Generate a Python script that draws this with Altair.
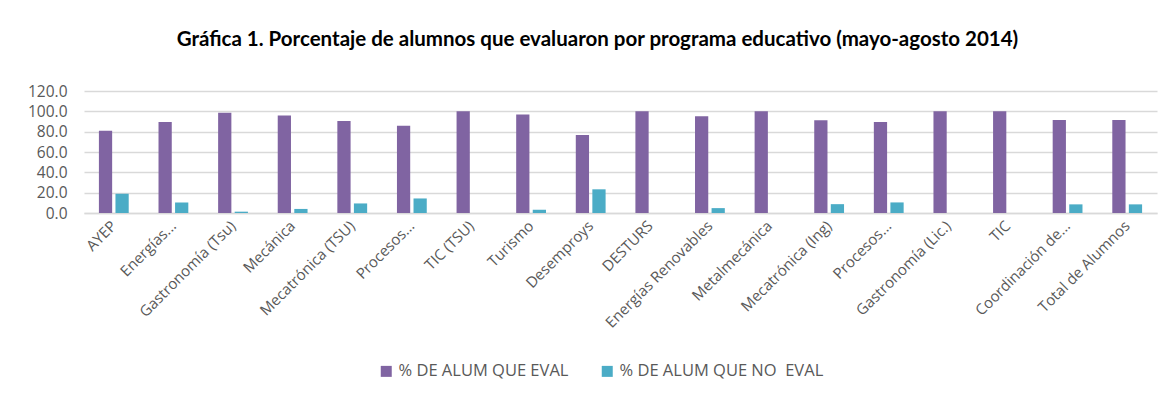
import json
import altair as alt
import pandas as pd

labels = ["AYEP", "Energías...", "Gastronomía (Tsu)", "Mecánica", "Mecatrónica (TSU)",
          "Procesos...", "TIC (TSU)", "Turismo", "Desemproys", "DESTURS",
          "Energías Renovables", "Metalmecánica", "Mecatrónica (Ing)", "Procesos...",
          "Gastronomía (Lic.)", "TIC", "Coordinación de...", "Total de Alumnos"]
eval_pct = [81.0, 89.6, 98.7, 96.0, 90.6, 85.7, 100.0, 96.8, 76.7, 100.0,
            95.2, 100.0, 91.3, 89.6, 100.0, 100.0, 91.5, 91.5]
no_eval_pct = [19.0, 10.4, 1.3, 4.0, 9.4, 14.3, 0.0, 3.2, 23.3, 0.0,
               4.8, 0.0, 8.7, 10.4, 0.0, 0.0, 8.5, 8.5]
series = ["% DE ALUM QUE EVAL", "% DE ALUM QUE NO\u00a0 EVAL"]
colors = ["#8064A2", "#4BACC6"]

rows = []
for i in range(len(labels)):
    rows.append({"idx": i, "serie": series[0], "valor": eval_pct[i]})
    rows.append({"idx": i, "serie": series[1], "valor": no_eval_pct[i]})
df = pd.DataFrame(rows)

label_expr = json.dumps(labels, ensure_ascii=False) + "[datum.value]"

FONT = "Open Sans"

chart = alt.Chart(df).mark_bar().encode(
    x=alt.X("idx:O", title=None,
            scale=alt.Scale(paddingInner=0.5, paddingOuter=0.25),
            axis=alt.Axis(labelExpr=label_expr, labelAngle=-45, labelAlign="right",
                          labelBaseline="middle", labelFontSize=15, labelColor="#595959",
                          labelFont=FONT, ticks=False, domainColor="#d9d9d9",
                          domainWidth=1.5, labelPadding=10, labelLimit=0)),
    xOffset=alt.XOffset("serie:N", sort=series,
                        scale=alt.Scale(paddingInner=0.2, paddingOuter=0)),
    y=alt.Y("valor:Q", title=None,
            scale=alt.Scale(domain=[0, 120], nice=False),
            axis=alt.Axis(values=[0, 20, 40, 60, 80, 100, 120], format=".1f",
                          labelFontSize=15.5, labelColor="#595959", labelFont=FONT,
                          ticks=False, domain=False, gridColor="#d9d9d9",
                          gridWidth=1.5, labelPadding=17)),
    color=alt.Color("serie:N", sort=series,
                    scale=alt.Scale(domain=series, range=colors),
                    legend=alt.Legend(title=None, orient="none", direction="horizontal",
                                      legendX=294, legendY=272, symbolType="square",
                                      symbolSize=121, symbolStrokeWidth=0,
                                      labelFontSize=16.5, labelColor="#595959",
                                      labelFont=FONT, columnPadding=30, labelLimit=0,
                                      labelOffset=4, padding=0)),
).properties(
    width=1073,
    height=122,
    title=alt.TitleParams(
        "Gráfica 1. Porcentaje de alumnos que evaluaron por programa educativo (mayo-agosto 2014)",
        font="Lato", fontSize=20.5, fontWeight="bold", color="#000000",
        anchor="middle", offset=34, dx=-23),
    padding={"left": 76, "top": 83, "right": 7, "bottom": 179},
    autosize=alt.AutoSizeParams(type="none"),
).configure_view(stroke=None)

chart.save("out.html", embed_options={"renderer": "svg", "actions": False})
